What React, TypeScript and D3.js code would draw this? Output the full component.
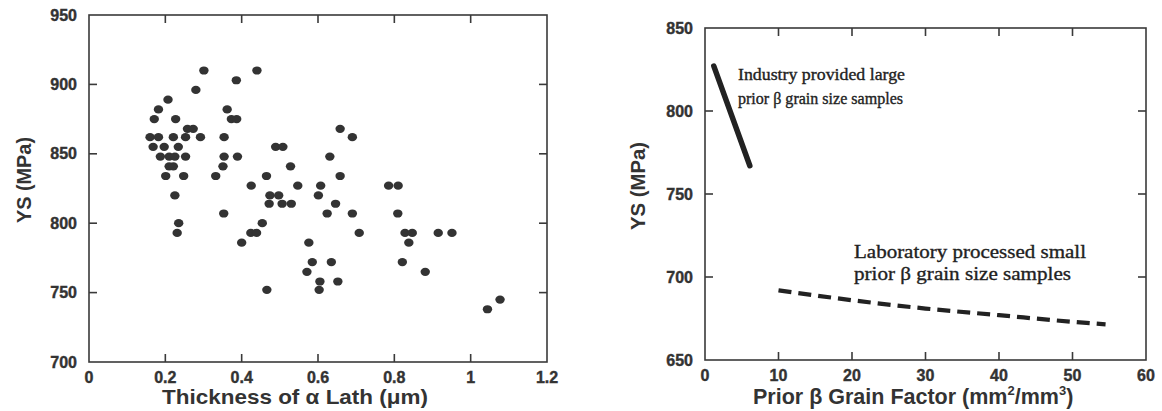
import React from "react";
import * as d3 from "d3";

// Left chart: YS vs thickness of alpha lath
const lathThickness: number[] = [
  0.301, 0.44,
  0.386,
  0.28,
  0.207,
  0.182, 0.362,
  0.171, 0.227, 0.373, 0.387,
  0.258, 0.273, 0.658,
  0.16, 0.182, 0.221, 0.253, 0.292, 0.354, 0.69,
  0.168, 0.197, 0.234, 0.489, 0.508,
  0.187, 0.21, 0.225, 0.253, 0.354, 0.389, 0.631,
  0.21, 0.221, 0.351, 0.528,
  0.201, 0.248, 0.332, 0.465, 0.658,
  0.425, 0.547, 0.607, 0.785, 0.81,
  0.225, 0.474, 0.497, 0.601,
  0.472, 0.506, 0.53, 0.646,
  0.353, 0.624, 0.69, 0.809,
  0.235, 0.454,
  0.231, 0.424, 0.439, 0.708, 0.828, 0.847, 0.915, 0.951,
  0.4, 0.576, 0.838,
  0.585, 0.635, 0.821,
  0.571, 0.881,
  0.605, 0.652,
  0.466, 0.603,
  1.077,
  1.044,
];
const lathYS: number[] = [
  910, 910,
  903,
  896,
  889,
  882, 882,
  875, 875, 875, 875,
  868, 868, 868,
  862, 862, 862, 862, 862, 862, 862,
  855, 855, 855, 855, 855,
  848, 848, 848, 848, 848, 848, 848,
  841, 841, 841, 841,
  834, 834, 834, 834, 834,
  827, 827, 827, 827, 827,
  820, 820, 820, 820,
  814, 814, 814, 814,
  807, 807, 807, 807,
  800, 800,
  793, 793, 793, 793, 793, 793, 793, 793,
  786, 786, 786,
  772, 772, 772,
  765, 765,
  758, 758,
  752, 752,
  745,
  738,
];
const leftXTicks: number[] = [0, 0.2, 0.4, 0.6, 0.8, 1, 1.2];
const leftYTicks: number[] = [700, 750, 800, 850, 900, 950];

// Right chart: YS vs prior beta grain factor
const industryX: number[] = [1.2, 6.1];
const industryYS: number[] = [827, 767];
const labX: number[] = [10, 20, 30, 40, 50, 54.5];
const labYS: number[] = [692, 686, 681, 677, 673, 671.5];
const rightXTicks: number[] = [0, 10, 20, 30, 40, 50, 60];
const rightYTicks: number[] = [650, 700, 750, 800, 850];

const AX = "#3a3a3a";
const TXT = "#333";
const SANS = "'Liberation Sans', Arial, sans-serif";
const SERIF = "'Liberation Serif', 'Times New Roman', serif";

export default function App() {
  // left scales
  const lx = d3.scaleLinear().domain([0, 1.2]).range([89, 547]);
  const ly = d3.scaleLinear().domain([700, 950]).range([362, 15]);
  // right scales
  const rx = d3.scaleLinear().domain([0, 60]).range([705, 1146]);
  const ry = d3.scaleLinear().domain([650, 850]).range([360, 28]);

  const tickLen = 8;

  const lineGen = (xs: number[], ys: number[], sx: any, sy: any, curve: any) =>
    d3
      .line<number>()
      .x((_, i) => sx(xs[i]))
      .y((_, i) => sy(ys[i]))
      .curve(curve)(xs);

  const tickStyle = {
    fontFamily: SANS,
    fontWeight: "bold" as const,
    fontSize: 16,
    fill: TXT,
    stroke: TXT,
    strokeWidth: 0.4,
  };

  const frame = (sx: any, sy: any, xt: number[], yt: number[], xfmt: (v: number) => string) => {
    const [x0, x1] = sx.range();
    const [y0, y1] = sy.range();
    return (
      <g>
        <rect x={x0} y={y1} width={x1 - x0} height={y0 - y1} fill="none" stroke={AX} strokeWidth={1.6} />
        {xt.map((t) => (
          <g key={"x" + t}>
            {t !== xt[0] && t !== xt[xt.length - 1] && (
              <>
                <line x1={sx(t)} x2={sx(t)} y1={y0} y2={y0 - tickLen} stroke={AX} strokeWidth={1.6} />
                <line x1={sx(t)} x2={sx(t)} y1={y1} y2={y1 + tickLen} stroke={AX} strokeWidth={1.6} />
              </>
            )}
            <text x={sx(t)} y={y0 + 21} textAnchor="middle" {...tickStyle}>
              {xfmt(t)}
            </text>
          </g>
        ))}
        {yt.map((t) => (
          <g key={"y" + t}>
            {t !== yt[0] && t !== yt[yt.length - 1] && (
              <>
                <line x1={x0} x2={x0 + tickLen} y1={sy(t)} y2={sy(t)} stroke={AX} strokeWidth={1.6} />
                <line x1={x1} x2={x1 - tickLen} y1={sy(t)} y2={sy(t)} stroke={AX} strokeWidth={1.6} />
              </>
            )}
            <text x={x0 - 12} y={sy(t) + 5.5} textAnchor="end" {...tickStyle}>
              {t}
            </text>
          </g>
        ))}
      </g>
    );
  };

  const serifStyle = { fontFamily: SERIF, fill: "#222", stroke: "#222", strokeWidth: 0.35 };

  return (
    <svg width={1162} height={411} style={{ position: "absolute", left: 0, top: 0, background: "#fff" }}>
      <rect x={0} y={0} width={1162} height={411} fill="#fff" />
      {/* Left chart */}
      {frame(lx, ly, leftXTicks, leftYTicks, (v) => String(v))}
      {lathThickness.map((v, i) => (
        <ellipse key={i} cx={lx(v)} cy={ly(lathYS[i])} rx={4.7} ry={4.1} fill="#333" />
      ))}
      <text
        transform={`translate(31, 180) rotate(-90)`}
        textAnchor="middle"
        fontFamily={SANS}
        fontWeight="bold"
        fontSize={19.5}
        fill={TXT}
        textLength={86}
        lengthAdjust="spacingAndGlyphs"
      >
        YS (MPa)
      </text>
      <text
        x={162}
        y={404}
        fontFamily={SANS}
        fontWeight="bold"
        fontSize={20.5}
        fill={TXT}
        textLength={266}
        lengthAdjust="spacingAndGlyphs"
      >
        Thickness of α Lath (μm)
      </text>

      {/* Right chart */}
      {frame(rx, ry, rightXTicks, rightYTicks, (v) => String(v))}
      <path
        d={lineGen(industryX, industryYS, rx, ry, d3.curveLinear) || ""}
        fill="none"
        stroke="#222"
        strokeWidth={5.5}
        strokeLinecap="round"
      />
      <path
        d={lineGen(labX, labYS, rx, ry, d3.curveMonotoneX) || ""}
        fill="none"
        stroke="#222"
        strokeWidth={4.2}
        strokeDasharray="13 7"
      />
      <text x={738} y={80} fontSize={16.5} textLength={167} lengthAdjust="spacingAndGlyphs" {...serifStyle}>
        Industry provided large
      </text>
      <text x={738} y={104} fontSize={16.5} textLength={165} lengthAdjust="spacingAndGlyphs" {...serifStyle}>
        prior β grain size samples
      </text>
      <text x={854} y={258} fontSize={19} textLength={232} lengthAdjust="spacingAndGlyphs" {...serifStyle}>
        Laboratory processed small
      </text>
      <text x={854} y={280} fontSize={19} textLength={217} lengthAdjust="spacingAndGlyphs" {...serifStyle}>
        prior β grain size samples
      </text>
      <text
        transform={`translate(645, 186) rotate(-90)`}
        textAnchor="middle"
        fontFamily={SANS}
        fontWeight="bold"
        fontSize={19.5}
        fill={TXT}
        textLength={88}
        lengthAdjust="spacingAndGlyphs"
      >
        YS (MPa)
      </text>
      <text x={753} y={404} fontFamily={SANS} fontWeight="bold" fontSize={21.5} fill={TXT}>
        Prior β Grain Factor (mm
        <tspan fontSize={13} dy={-9}>2</tspan>
        <tspan dy={9}>/mm</tspan>
        <tspan fontSize={13} dy={-9}>3</tspan>
        <tspan dy={9}>)</tspan>
      </text>
    </svg>
  );
}
